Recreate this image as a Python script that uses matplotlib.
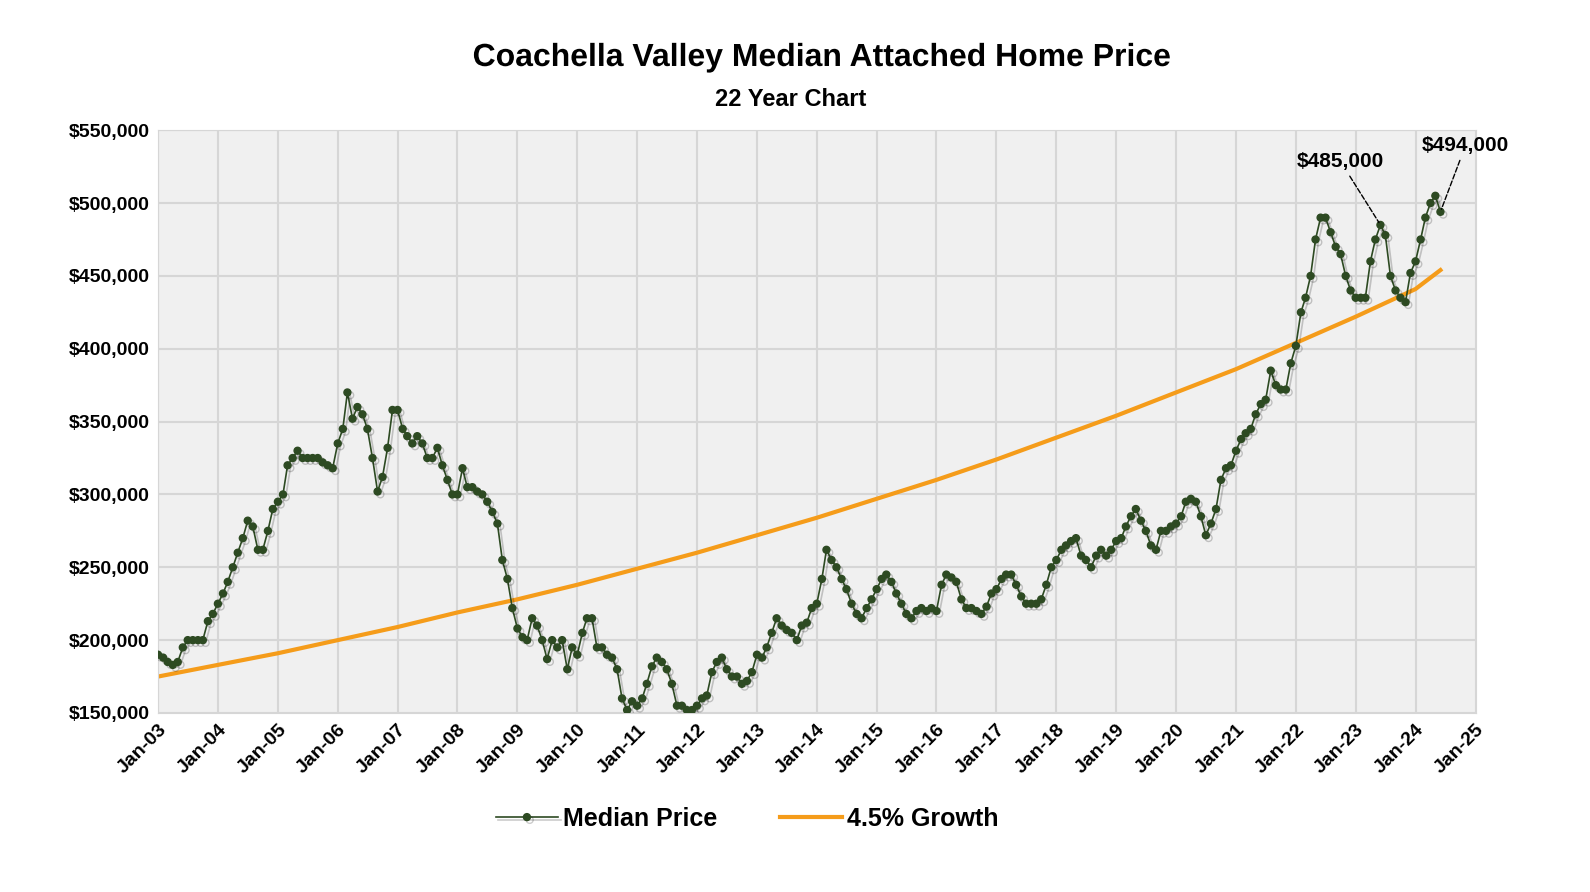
import matplotlib
matplotlib.use('Agg')
import matplotlib.pyplot as plt
import matplotlib.dates as mdates
import matplotlib.patheffects as pe
import pandas as pd
import numpy as np

plt.rcParams['font.family'] = ['Liberation Sans', 'DejaVu Sans']

# monthly median price, thousands of dollars, Jan-03 .. Jun-24
y2003 = [190,188,185,183,185,195,200,200,200,200,213,218]
y2004 = [225,232,240,250,260,270,282,278,262,262,275,290]
y2005 = [295,300,320,325,330,325,325,325,325,322,320,318]
y2006 = [335,345,370,352,360,355,345,325,302,312,332,358]
y2007 = [358,345,340,335,340,335,325,325,332,320,310,300]
y2008 = [300,318,305,305,302,300,295,288,280,255,242,222]
y2009 = [208,202,200,215,210,200,187,200,195,200,180,195]
y2010 = [190,205,215,215,195,195,190,188,180,160,152,158]
y2011 = [155,160,170,182,188,185,180,170,155,155,152,152]
y2012 = [155,160,162,178,185,188,180,175,175,170,172,178]
y2013 = [190,188,195,205,215,210,207,205,200,210,212,222]
y2014 = [225,242,262,255,250,242,235,225,218,215,222,228]
y2015 = [235,242,245,240,232,225,218,215,220,222,220,222]
y2016 = [220,238,245,243,240,228,222,222,220,218,223,232]
y2017 = [235,242,245,245,238,230,225,225,225,228,238,250]
y2018 = [255,262,265,268,270,258,255,250,258,262,258,262]
y2019 = [268,270,278,285,290,282,275,265,262,275,275,278]
y2020 = [280,285,295,297,295,285,272,280,290,310,318,320]
y2021 = [330,338,342,345,355,362,365,385,375,372,372,390]
y2022 = [402,425,435,450,475,490,490,480,470,465,450,440]
y2023 = [435,435,435,460,475,485,478,450,440,435,432,452]
y2024 = [460,475,490,500,505,494]

median = (y2003+y2004+y2005+y2006+y2007+y2008+y2009+y2010+y2011+y2012+y2013
          +y2014+y2015+y2016+y2017+y2018+y2019+y2020+y2021+y2022+y2023+y2024)
median = np.array(median) * 1000
months = pd.date_range('2003-01-01', periods=len(median), freq='MS')

# 4.5% growth line, read once per year off the chart
growthDates = pd.to_datetime(['2003-01-01','2004-01-01','2005-01-01','2006-01-01','2007-01-01',
  '2008-01-01','2009-01-01','2010-01-01','2011-01-01','2012-01-01','2013-01-01','2014-01-01',
  '2015-01-01','2016-01-01','2017-01-01','2018-01-01','2019-01-01','2020-01-01','2021-01-01',
  '2022-01-01','2023-01-01','2024-01-01','2024-06-01'])
growth = np.array([175,183,191,200,209,219,228,238,249,260,272,284,297,310,324,339,354,
                   370,386,404,422,441,454]) * 1000

fig = plt.figure(figsize=(15.9, 8.92), dpi=100)
ax = fig.add_axes([0.0994, 0.2007, 0.8286, 0.6533])
ax.set_facecolor('#f0f0f0')

shadow = [pe.SimpleLineShadow(offset=(2, -2), alpha=0.2), pe.Normal()]
ax.plot(months, median, color='#2d4a22', linewidth=1.2, marker='o', markersize=5,
        label='Median Price', path_effects=shadow, zorder=3)
ax.plot(growthDates, growth, color='#f59c1a', linewidth=3, label='4.5% Growth', zorder=2)

ax.set_xlim(pd.Timestamp('2003-01-01'), pd.Timestamp('2025-01-01'))
ax.set_ylim(150000, 550000)
ax.set_yticks(np.arange(150000, 550001, 50000))
ax.yaxis.set_major_formatter(plt.FuncFormatter(lambda v, p: '${:,.0f}'.format(v)))
ax.xaxis.set_major_locator(mdates.YearLocator())
ax.xaxis.set_major_formatter(mdates.DateFormatter('Jan-%y'))
for lbl in ax.get_xticklabels():
  lbl.set_rotation(45); lbl.set_ha('right'); lbl.set_rotation_mode('anchor')
ax.tick_params(labelsize=14, length=0, pad=6)
for lbl in ax.get_xticklabels() + ax.get_yticklabels():
  lbl.set_fontweight('bold')
ax.grid(True, color='#d6d6d6', linewidth=1.5)
for s in ax.spines.values():
  s.set_color('#d6d6d6')

ax.annotate('$485,000', xy=(months[245], median[245]), xytext=(pd.Timestamp('2022-10-01'), 522000),
            fontsize=15, fontweight='bold', ha='center', va='bottom',
            arrowprops=dict(arrowstyle='-', linestyle='--', color='black', lw=1))
ax.annotate('$494,000', xy=(months[-1], median[-1]), xytext=(pd.Timestamp('2024-11-01'), 533000),
            fontsize=15, fontweight='bold', ha='center', va='bottom', annotation_clip=False,
            arrowprops=dict(arrowstyle='-', linestyle='--', color='black', lw=1))

fig.text(0.517, 0.935, 'Coachella Valley Median Attached Home Price', ha='center', va='center',
         fontsize=23, fontweight='bold', path_effects=[pe.SimpleLineShadow(), pe.Normal()])
fig.text(0.497, 0.888, '22 Year Chart', ha='center', va='center', fontsize=17, fontweight='bold')

leg = fig.legend(loc='center', bbox_to_anchor=(0.47, 0.082), ncol=2, frameon=False,
                 prop={'size': 18, 'weight': 'bold'}, handlelength=2.5, columnspacing=2.5,
                 handletextpad=0.2)
fig.savefig('out.png', dpi=100)
